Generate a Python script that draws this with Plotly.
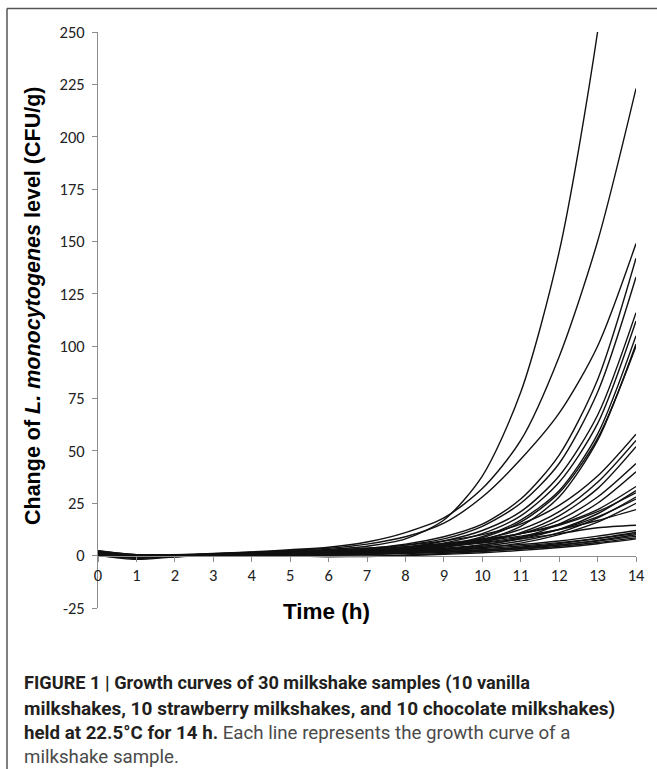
import plotly.graph_objects as go

hours = list(range(15))

sample_01 = [2.0, -0.3, 0.3, 0.9, 1.6, 2.3, 3.0, 4.5, 8.0, 17, 38, 78, 145, 250, 400]
sample_02 = [1.0, 0.2, 0.5, 1.0, 1.8, 2.8, 4.0, 6.5, 11, 18, 32, 55, 95, 150, 223]
sample_03 = [0.5, -0.5, 0.2, 0.8, 1.5, 2.4, 3.5, 5.5, 9.0, 15.5, 28, 46, 68, 100, 149]
sample_04 = [1.2, -0.8, 0.0, 0.5, 1.0, 1.6, 2.5, 3.5, 5.5, 9.0, 15, 27, 48, 84, 142]
sample_05 = [0.2, -1.0, -0.2, 0.4, 0.9, 1.4, 2.0, 3.0, 5.0, 8.0, 14, 25, 44, 78, 133]
sample_06 = [1.5, 0.2, 0.3, 0.6, 1.0, 1.5, 2.0, 2.5, 4.0, 7.0, 12, 21, 38, 67, 116]
sample_07 = [0.8, -0.9, -0.3, 0.3, 0.7, 1.1, 1.5, 2.0, 3.5, 6.0, 10.5, 19, 35, 63, 112]
sample_08 = [2.2, 0.4, 0.2, 0.4, 0.8, 1.2, 1.6, 2.0, 3.0, 5.0, 9.0, 17, 31, 58, 105]
sample_09 = [0.0, -1.8, -0.6, 0.2, 0.6, 0.9, 1.2, 1.5, 2.5, 4.0, 7.5, 14, 28, 55, 101]
sample_10 = [1.0, -0.4, 0.0, 0.4, 0.9, 1.3, 1.7, 1.8, 2.6, 4.5, 8.5, 16, 30, 56, 100]
sample_11 = [0.6, -0.6, 0.1, 0.6, 1.2, 1.8, 2.5, 3.5, 5.0, 7.0, 10, 15, 24, 38, 58]
sample_12 = [1.8, 0.0, 0.2, 0.5, 1.0, 1.5, 2.0, 2.8, 4.0, 5.5, 8.0, 12.5, 21, 35, 55]
sample_13 = [0.3, -1.0, -0.4, 0.3, 0.8, 1.0, 1.2, 1.8, 2.8, 4.2, 6.5, 11, 19, 32, 52]
sample_14 = [1.4, -0.2, 0.1, 0.5, 1.0, 1.4, 1.8, 2.4, 3.4, 5.0, 7.0, 10.5, 17, 28, 44]
sample_15 = [0.9, -0.7, -0.1, 0.4, 0.7, 0.8, 0.8, 1.2, 2.0, 3.2, 5.0, 8.5, 15, 25, 40]
sample_16 = [1.1, -0.3, 0.1, 0.5, 1.0, 1.6, 2.2, 3.0, 4.0, 5.5, 7.5, 10.5, 15, 22, 33]
sample_17 = [0.4, -0.8, -0.3, 0.3, 0.6, 0.8, 1.0, 1.5, 2.3, 3.5, 5.2, 8.0, 12.5, 20, 31]
sample_18 = [2.0, 0.3, 0.3, 0.6, 1.1, 1.7, 2.4, 3.2, 4.3, 5.8, 7.8, 10.5, 14.5, 21, 30]
sample_19 = [0.7, -0.5, 0.0, 0.4, 0.8, 1.0, 1.1, 1.4, 2.0, 3.0, 4.5, 7.0, 11, 18, 28]
sample_20 = [1.6, 0.1, 0.2, 0.6, 1.1, 1.5, 1.9, 2.5, 3.4, 4.6, 6.3, 8.8, 12.5, 18.5, 27]
sample_21 = [0.2, -1.2, -0.5, 0.2, 0.5, 0.4, 0.3, 0.6, 1.3, 2.3, 3.8, 6.0, 10, 16, 25]
sample_22 = [1.3, -0.4, 0.0, 0.5, 1.0, 1.6, 2.3, 3.0, 4.0, 5.3, 7.0, 9.3, 12.5, 16.8, 22]
sample_23 = [0.8, -0.4, 0.1, 0.5, 1.0, 1.5, 2.0, 2.7, 3.5, 4.6, 6.0, 8.0, 10.5, 13.3, 14.5]
sample_24 = [1.7, 0.2, 0.2, 0.5, 0.9, 1.2, 1.5, 1.8, 2.3, 3.0, 4.0, 5.3, 7.0, 9.3, 12]
sample_25 = [0.5, -0.8, -0.3, 0.2, 0.4, 0.3, 0.2, 0.5, 1.0, 1.7, 2.7, 4.0, 5.8, 8.2, 11.2]
sample_26 = [1.2, -0.1, 0.1, 0.4, 0.7, 0.9, 1.0, 1.3, 1.8, 2.5, 3.4, 4.6, 6.2, 8.2, 10.5]
sample_27 = [0.1, -1.0, -0.4, 0.2, 0.3, 0.0, -0.3, -0.2, 0.3, 1.0, 2.0, 3.3, 5.0, 7.3, 10]
sample_28 = [0.9, -0.5, 0.0, 0.4, 0.6, 0.7, 0.8, 1.0, 1.4, 2.0, 2.8, 3.8, 5.2, 7.0, 9.2]
sample_29 = [2.4, 0.5, 0.3, 0.5, 0.7, 0.8, 0.9, 1.0, 1.2, 1.6, 2.2, 3.2, 4.5, 6.3, 8.5]
sample_30 = [0.3, -0.7, -0.2, 0.2, 0.2, -0.2, -0.5, -0.4, 0.0, 0.6, 1.4, 2.5, 3.9, 5.7, 8.0]

samples = [sample_01, sample_02, sample_03, sample_04, sample_05, sample_06,
           sample_07, sample_08, sample_09, sample_10, sample_11, sample_12,
           sample_13, sample_14, sample_15, sample_16, sample_17, sample_18,
           sample_19, sample_20, sample_21, sample_22, sample_23, sample_24,
           sample_25, sample_26, sample_27, sample_28, sample_29, sample_30]

y_ticks = [-25, 0, 25, 50, 75, 100, 125, 150, 175, 200, 225, 250]
x_ticks = list(range(15))

caption_lines = [
    "<b>FIGURE 1 | Growth curves of 30 milkshake samples (10 vanilla</b>",
    "<b>milkshakes, 10 strawberry milkshakes, and 10 chocolate milkshakes)</b>",
    "<b>held at 22.5°C for 14 h.</b> <span style='color:#4a4a4a'>Each line represents the growth curve of a</span>",
    "<span style='color:#4a4a4a'>milkshake sample.</span>",
]
caption_sizes = [18.2, 19.0, 18.7, 18.7]

# ---- layout geometry (pixels) ----
W_FIG, H_FIG = 657, 769
L, R, T, B = 98, 21, 32, 161
PW = W_FIG - L - R
PH = H_FIG - T - B


def px(xpix):
    return (xpix - L) / PW


def py(ypix):
    return (T + PH - ypix) / PH


fig = go.Figure()
for i, s in enumerate(samples):
    fig.add_trace(go.Scatter(
        x=hours, y=s, mode="lines",
        line=dict(color="#111111", width=1.4, shape="spline", smoothing=0.8),
        showlegend=False, hoverinfo="skip", name=f"Sample {i+1}"))

y_lo, y_hi = -25, 250
zero_pos = (0 - y_lo) / (y_hi - y_lo)

tick_font = dict(family="Carlito, Lato, sans-serif", size=16.5, color="#222222")

fig.update_layout(
    width=W_FIG, height=H_FIG,
    margin=dict(l=L, r=R, t=T, b=B),
    paper_bgcolor="white", plot_bgcolor="white",
    xaxis=dict(range=[0, 14], tickvals=x_ticks, ticktext=[str(t) for t in x_ticks],
               showgrid=False, zeroline=False, showline=True, linecolor="#8c8c8c",
               linewidth=1, ticks="outside", ticklen=5, tickcolor="#8c8c8c",
               tickfont=tick_font, anchor="free", position=zero_pos),
    yaxis=dict(range=[y_lo, y_hi], tickvals=y_ticks, ticktext=[str(t) for t in y_ticks],
               showgrid=False, zeroline=False, showline=True, linecolor="#8c8c8c",
               linewidth=1, ticks="outside", ticklen=5, tickcolor="#8c8c8c",
               tickfont=tick_font, ticklabelstandoff=4),
)

fig.add_annotation(text="<b>Time (h)</b>", xref="paper", yref="paper",
                   x=px(326), y=py(611), xanchor="center", yanchor="middle",
                   showarrow=False,
                   font=dict(family="Liberation Sans, Arial, sans-serif", size=22.5, color="#000000"))
fig.add_annotation(text="<b>Change of <i>L. monocytogenes</i> level (CFU/g)</b>",
                   xref="paper", yref="paper", x=px(33), y=py(306),
                   xanchor="center", yanchor="middle", textangle=-90,
                   showarrow=False,
                   font=dict(family="Liberation Sans, Arial, sans-serif", size=21.5, color="#000000"))

cap_y = [683, 708, 733, 757]
for line, yy, sz in zip(caption_lines, cap_y, caption_sizes):
    fig.add_annotation(text=line, xref="paper", yref="paper",
                       x=px(22), y=py(yy), xanchor="left", yanchor="middle",
                       showarrow=False, align="left",
                       font=dict(family="Liberation Sans Narrow, Arial Narrow, Roboto, sans-serif",
                                 size=sz, color="#231f20"))

# frame lines (top and left)
fig.add_shape(type="line", xref="paper", yref="paper",
              x0=px(7), x1=px(700), y0=py(8.5), y1=py(8.5),
              line=dict(color="#555555", width=1.5))
fig.add_shape(type="line", xref="paper", yref="paper",
              x0=px(7), x1=px(7), y0=py(8.5), y1=py(790),
              line=dict(color="#555555", width=1.5))

fig.write_html("out.html", config={"displayModeBar": False},
               post_script="document.body.style.margin='0px';document.body.style.overflow='hidden';")
